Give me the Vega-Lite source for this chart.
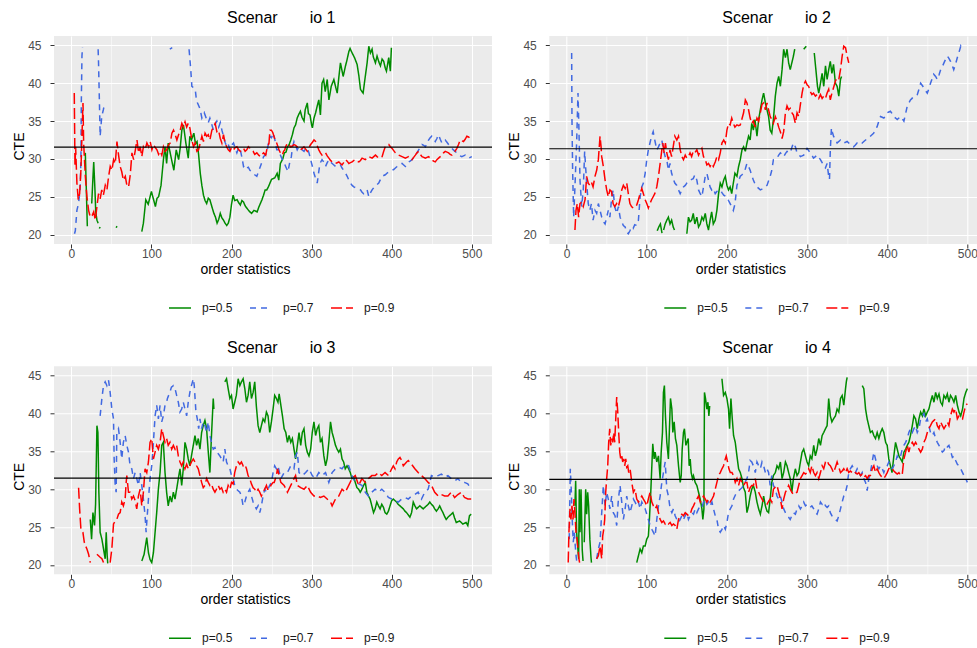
{
"$schema":"https://vega.github.io/schema/vega-lite/v6.json",
"autosize":{"type":"pad"},
"padding":{"left":12,"top":10,"right":0,"bottom":0},
"background":"white",
"datasets":{
"g1":[{"x":17.5,"y":30.8},{"x":20,"y":21.1},{"x":22,"y":null},{"x":25.5,"y":24.1},{"x":27,"y":27.5},{"x":28,"y":29.6},{"x":29.5,"y":26},{"x":30.5,"y":23},{"x":32,"y":21.9},{"x":33.5,"y":21.5},{"x":34.2,"y":null},{"x":35,"y":20.8},{"x":36,"y":21},{"x":40,"y":null},{"x":56,"y":20.9},{"x":57,"y":21.1},{"x":70,"y":null},{"x":88,"y":20.4},{"x":90,"y":21.5},{"x":93,"y":24.6},{"x":96,"y":24},{"x":100,"y":25.7},{"x":103,"y":24.5},{"x":105,"y":23.7},{"x":107,"y":24.8},{"x":109,"y":25},{"x":112,"y":26.5},{"x":115,"y":29.9},{"x":117,"y":31.6},{"x":119,"y":29.4},{"x":121,"y":32.1},{"x":124,"y":30.5},{"x":126,"y":29.5},{"x":128,"y":28.5},{"x":131,"y":31.2},{"x":134,"y":29.9},{"x":136,"y":31.5},{"x":138,"y":33.8},{"x":140,"y":34.5},{"x":143,"y":32.1},{"x":146,"y":30.1},{"x":148,"y":33},{"x":150,"y":32.5},{"x":153,"y":33.4},{"x":155,"y":32},{"x":157,"y":32.3},{"x":159,"y":30.5},{"x":161,"y":28.1},{"x":163,"y":26.5},{"x":165,"y":25.2},{"x":167,"y":24.5},{"x":169,"y":24.1},{"x":171,"y":24.8},{"x":173,"y":24.6},{"x":176,"y":23.5},{"x":178,"y":22.8},{"x":180,"y":22.3},{"x":182,"y":21.5},{"x":184,"y":22},{"x":186,"y":22.8},{"x":188,"y":22.2},{"x":190,"y":21.9},{"x":192,"y":21.5},{"x":194,"y":21.2},{"x":196,"y":21.5},{"x":198,"y":22.3},{"x":200,"y":24},{"x":202,"y":25.2},{"x":204,"y":24.5},{"x":207,"y":24.6},{"x":209,"y":24.2},{"x":211,"y":23.9},{"x":213,"y":24.5},{"x":215,"y":24.3},{"x":217,"y":23.8},{"x":219,"y":23.5},{"x":222,"y":23.1},{"x":225,"y":22.8},{"x":228,"y":23.2},{"x":232,"y":23},{"x":234,"y":23.6},{"x":236,"y":24.1},{"x":238,"y":24.6},{"x":240,"y":25.2},{"x":242,"y":25.9},{"x":244,"y":25.9},{"x":246,"y":26.3},{"x":248,"y":26.8},{"x":250,"y":27.3},{"x":252,"y":27.4},{"x":254,"y":27.5},{"x":257,"y":28.1},{"x":259,"y":27.2},{"x":261,"y":29.4},{"x":264,"y":30},{"x":266,"y":30.8},{"x":268,"y":30.9},{"x":270,"y":31.6},{"x":272,"y":31.9},{"x":274,"y":32.5},{"x":276,"y":33.2},{"x":278,"y":34.1},{"x":280,"y":34.5},{"x":282,"y":35.4},{"x":284,"y":35.9},{"x":286,"y":36.3},{"x":288,"y":35.5},{"x":290.5,"y":35},{"x":292,"y":36.5},{"x":294.6,"y":37.4},{"x":296,"y":36},{"x":298,"y":35.8},{"x":300,"y":34.5},{"x":301,"y":34.1},{"x":303,"y":35.4},{"x":305,"y":36.1},{"x":307,"y":37},{"x":309,"y":37.8},{"x":311,"y":35.8},{"x":313,"y":40},{"x":315,"y":40.5},{"x":317,"y":38.9},{"x":319.5,"y":40.5},{"x":321.6,"y":37.8},{"x":324.5,"y":39.6},{"x":327.8,"y":40.5},{"x":330,"y":39.5},{"x":332,"y":38.7},{"x":334,"y":40.8},{"x":336,"y":42.7},{"x":339.4,"y":40.9},{"x":342.3,"y":42.3},{"x":344,"y":43},{"x":346.5,"y":44.2},{"x":348,"y":44.6},{"x":350.6,"y":44},{"x":353.5,"y":43.4},{"x":356.8,"y":42.5},{"x":359,"y":41},{"x":361,"y":39.2},{"x":364.3,"y":38.7},{"x":367,"y":40.9},{"x":369.3,"y":42.7},{"x":371.4,"y":44.9},{"x":373.4,"y":44},{"x":375.5,"y":44.5},{"x":377,"y":43.5},{"x":379.7,"y":42.7},{"x":381.7,"y":43.6},{"x":384,"y":42.8},{"x":385.9,"y":42.3},{"x":388,"y":43.2},{"x":390,"y":42.9},{"x":392,"y":42},{"x":393.4,"y":41.6},{"x":396.3,"y":43.4},{"x":398.3,"y":41.6},{"x":399.6,"y":44.7}],
"b1":[{"x":4,"y":20.1},{"x":5,"y":20.5},{"x":7,"y":23.2},{"x":9,"y":24.1},{"x":11,"y":25.9},{"x":12,"y":30},{"x":12.5,"y":37.4},{"x":13.3,"y":43.6},{"x":14,"y":44.8},{"x":20,"y":null},{"x":33.5,"y":44.5},{"x":34,"y":42.7},{"x":35,"y":38},{"x":36,"y":33},{"x":38,"y":35.6},{"x":40,"y":36.5},{"x":41,"y":37},{"x":60,"y":null},{"x":123,"y":44.5},{"x":126,"y":44.7},{"x":135,"y":null},{"x":147,"y":44.5},{"x":149,"y":42},{"x":150.5,"y":39.6},{"x":152.6,"y":39.4},{"x":154.7,"y":39.2},{"x":156,"y":38},{"x":157.6,"y":37.4},{"x":160,"y":36.8},{"x":161,"y":36.5},{"x":163,"y":35.4},{"x":166,"y":36.1},{"x":169,"y":35.2},{"x":171,"y":34.8},{"x":173,"y":35.4},{"x":175.5,"y":34.5},{"x":177.5,"y":33.8},{"x":179.6,"y":34.6},{"x":181.7,"y":35},{"x":184,"y":34.2},{"x":186,"y":34.8},{"x":188,"y":33.8},{"x":190,"y":33},{"x":192,"y":32.2},{"x":194,"y":31.6},{"x":196,"y":31.9},{"x":198,"y":31.2},{"x":200,"y":31.8},{"x":202.5,"y":32.1},{"x":204.6,"y":31.4},{"x":206.7,"y":30.8},{"x":209,"y":31.5},{"x":211,"y":31.2},{"x":213,"y":30.2},{"x":215,"y":29},{"x":217,"y":29.2},{"x":219,"y":28.8},{"x":221,"y":28.9},{"x":223,"y":28.5},{"x":225,"y":28.3},{"x":227,"y":28.1},{"x":229,"y":27.9},{"x":231.6,"y":27.7},{"x":234,"y":28.4},{"x":236,"y":29},{"x":238,"y":29.6},{"x":240,"y":30.3},{"x":242,"y":30.5},{"x":244,"y":30.8},{"x":246,"y":32},{"x":248,"y":33},{"x":250,"y":32.8},{"x":252,"y":33.4},{"x":254,"y":32.6},{"x":256.5,"y":31.2},{"x":259.3,"y":31.2},{"x":261,"y":30.5},{"x":263.5,"y":29.9},{"x":265.6,"y":29.5},{"x":267.6,"y":29},{"x":270.5,"y":28.3},{"x":272.6,"y":29.5},{"x":274.7,"y":30.3},{"x":276,"y":31.5},{"x":278,"y":32.3},{"x":280,"y":31.8},{"x":282,"y":31.2},{"x":284,"y":31.6},{"x":286.3,"y":31.6},{"x":288,"y":31.2},{"x":290.5,"y":31},{"x":292.6,"y":31.4},{"x":294.6,"y":31.4},{"x":296.7,"y":30.8},{"x":298.8,"y":29.9},{"x":301,"y":29},{"x":303,"y":28.1},{"x":305,"y":27.4},{"x":307,"y":26.8},{"x":308.5,"y":28},{"x":310.4,"y":29.4},{"x":313,"y":29.9},{"x":315,"y":29.6},{"x":317.4,"y":29},{"x":319.5,"y":29.5},{"x":321.6,"y":29.9},{"x":323.6,"y":29.6},{"x":325.7,"y":29.4},{"x":327.8,"y":29.2},{"x":329.9,"y":29},{"x":332,"y":29.2},{"x":336,"y":29.2},{"x":338,"y":28.8},{"x":340,"y":28.5},{"x":342,"y":28.2},{"x":344.4,"y":27.7},{"x":346.5,"y":27.2},{"x":348.5,"y":26.8},{"x":350.6,"y":26.5},{"x":352.7,"y":26.3},{"x":354.8,"y":26.2},{"x":356.8,"y":26.1},{"x":359,"y":26},{"x":361,"y":25.9},{"x":363,"y":25.6},{"x":365,"y":25.4},{"x":367,"y":25.6},{"x":369.3,"y":25.9},{"x":371.4,"y":25},{"x":373.4,"y":25.5},{"x":375.5,"y":25.9},{"x":377.6,"y":26.2},{"x":379.7,"y":26.5},{"x":381.7,"y":26.6},{"x":383.8,"y":26.8},{"x":386,"y":27.3},{"x":388,"y":27.7},{"x":390,"y":27.8},{"x":392,"y":27.9},{"x":394,"y":28.1},{"x":396.3,"y":28.3},{"x":398.3,"y":28.4},{"x":400.4,"y":28.5},{"x":402.5,"y":28.6},{"x":404.6,"y":28.8},{"x":406.7,"y":29},{"x":408.7,"y":29.2},{"x":410.8,"y":29.3},{"x":412.9,"y":29.4},{"x":415,"y":29.2},{"x":417,"y":29},{"x":419,"y":29.3},{"x":421,"y":29.6},{"x":423,"y":29.7},{"x":425.3,"y":29.9},{"x":427.4,"y":30.2},{"x":429.5,"y":30.5},{"x":431.5,"y":30.8},{"x":433.6,"y":31.2},{"x":435.7,"y":31.5},{"x":437.8,"y":31.9},{"x":440,"y":31.8},{"x":442,"y":31.6},{"x":444,"y":32},{"x":446,"y":32.5},{"x":448,"y":32.8},{"x":450,"y":33},{"x":452.3,"y":32.7},{"x":454.4,"y":32.3},{"x":456.4,"y":32.7},{"x":458.5,"y":33.2},{"x":460.6,"y":32.6},{"x":462.7,"y":32.1},{"x":464.7,"y":32.3},{"x":466.8,"y":32.5},{"x":469,"y":32.2},{"x":471,"y":31.9},{"x":473,"y":31.6},{"x":475,"y":31.4},{"x":477,"y":31.2},{"x":479,"y":31},{"x":481.3,"y":30.8},{"x":483.4,"y":30.5},{"x":485.4,"y":30.4},{"x":487.5,"y":30.3},{"x":489.6,"y":30.4},{"x":491.7,"y":30.5},{"x":493.8,"y":30.3},{"x":495.9,"y":30.1},{"x":498,"y":30.2},{"x":500,"y":30.3}],
"r1":[{"x":3.7,"y":38.7},{"x":4.6,"y":29},{"x":5.4,"y":31.6},{"x":7,"y":26.8},{"x":8.7,"y":24.6},{"x":10.4,"y":25.4},{"x":12,"y":28.5},{"x":13.3,"y":33},{"x":14.6,"y":37.4},{"x":15.4,"y":32.1},{"x":17.5,"y":27.7},{"x":19.5,"y":25},{"x":21.6,"y":23.2},{"x":23.7,"y":22.3},{"x":26,"y":22.5},{"x":28,"y":23},{"x":30,"y":21.9},{"x":32,"y":23.7},{"x":34,"y":25.4},{"x":36,"y":24.7},{"x":38,"y":25.9},{"x":40,"y":25.2},{"x":42.4,"y":26.5},{"x":44.5,"y":25.9},{"x":46.6,"y":27.7},{"x":48.6,"y":29},{"x":50.7,"y":28.5},{"x":52.8,"y":29.9},{"x":54.9,"y":29.4},{"x":57,"y":32.3},{"x":59,"y":30.5},{"x":61,"y":29},{"x":63,"y":28.3},{"x":65,"y":27.2},{"x":67.4,"y":27.7},{"x":69.4,"y":26.5},{"x":71.5,"y":26.3},{"x":73.6,"y":27.9},{"x":75.7,"y":30.8},{"x":77.8,"y":29.9},{"x":80,"y":31.2},{"x":82,"y":32.5},{"x":84,"y":30.8},{"x":86,"y":31.6},{"x":88,"y":30.3},{"x":90,"y":31.6},{"x":92,"y":31.2},{"x":94.4,"y":32.1},{"x":96.5,"y":31.6},{"x":98.5,"y":32.3},{"x":100.6,"y":31.2},{"x":102.7,"y":31.9},{"x":104.8,"y":31.5},{"x":106.9,"y":31.2},{"x":109,"y":30.6},{"x":111,"y":31},{"x":113,"y":30.5},{"x":115,"y":31.6},{"x":117,"y":31},{"x":119,"y":31.2},{"x":121,"y":31.8},{"x":123.5,"y":32.1},{"x":125.6,"y":33.4},{"x":127.6,"y":33.8},{"x":129.7,"y":33.2},{"x":131.8,"y":32.5},{"x":133.9,"y":33.2},{"x":136,"y":33.8},{"x":138,"y":34.7},{"x":140,"y":34.2},{"x":142,"y":34.9},{"x":144,"y":34.2},{"x":146,"y":34.7},{"x":148,"y":34.1},{"x":150.5,"y":32.5},{"x":152.6,"y":31.6},{"x":154.7,"y":32.1},{"x":156.8,"y":31},{"x":158.8,"y":31.2},{"x":161,"y":32.1},{"x":163,"y":33},{"x":165,"y":32.3},{"x":167,"y":33.4},{"x":169,"y":33},{"x":171,"y":33.2},{"x":173,"y":32.5},{"x":175.5,"y":33.8},{"x":177.5,"y":34.2},{"x":179.6,"y":34.7},{"x":181.7,"y":33.6},{"x":183.8,"y":33.8},{"x":186,"y":32.7},{"x":188,"y":32.1},{"x":190,"y":33.2},{"x":192,"y":32.1},{"x":194,"y":31.6},{"x":196,"y":31.2},{"x":198,"y":31},{"x":200,"y":31.5},{"x":202.5,"y":31.2},{"x":204.6,"y":31.5},{"x":206.7,"y":31.6},{"x":209,"y":31.2},{"x":211,"y":31},{"x":213,"y":31.3},{"x":215,"y":31.4},{"x":217,"y":31},{"x":219,"y":31.2},{"x":221,"y":31.6},{"x":223,"y":31.4},{"x":225,"y":31.1},{"x":227,"y":31},{"x":229,"y":30.6},{"x":231.6,"y":30.8},{"x":234,"y":30.5},{"x":236,"y":30.3},{"x":238,"y":30.6},{"x":240,"y":30.8},{"x":242.7,"y":30.5},{"x":244,"y":31.2},{"x":246.8,"y":32.1},{"x":248,"y":33.8},{"x":249.8,"y":33.8},{"x":251.5,"y":33.5},{"x":253,"y":33},{"x":254.5,"y":32.5},{"x":256.4,"y":32.1},{"x":259.3,"y":31.2},{"x":261,"y":30.8},{"x":263.5,"y":30.5},{"x":265,"y":31},{"x":266.4,"y":31.2},{"x":268,"y":31.7},{"x":269.7,"y":32.1},{"x":272,"y":31.8},{"x":273.9,"y":31.6},{"x":276,"y":31.7},{"x":278,"y":31.9},{"x":280,"y":31.8},{"x":282,"y":31.6},{"x":284,"y":31.4},{"x":286.3,"y":31.2},{"x":288.4,"y":31.4},{"x":290.5,"y":31.6},{"x":292.6,"y":31.3},{"x":294.6,"y":31},{"x":296.7,"y":31.5},{"x":298.8,"y":31.9},{"x":301,"y":32.2},{"x":303,"y":32.5},{"x":305,"y":32.3},{"x":306,"y":32.1},{"x":307.5,"y":31.6},{"x":309,"y":31.2},{"x":311,"y":30.8},{"x":313,"y":30.5},{"x":315,"y":30.7},{"x":317.4,"y":30.8},{"x":319.5,"y":30.4},{"x":321.6,"y":30.1},{"x":323.6,"y":29.8},{"x":325.7,"y":29.6},{"x":327.8,"y":29.5},{"x":329.9,"y":29.4},{"x":332,"y":29.5},{"x":334,"y":29.6},{"x":336,"y":29.4},{"x":338,"y":29.2},{"x":340,"y":29.5},{"x":342.3,"y":29.9},{"x":344.4,"y":29.7},{"x":346.5,"y":29.4},{"x":348.5,"y":29.5},{"x":350.6,"y":29.6},{"x":352.7,"y":29.8},{"x":354.8,"y":29.9},{"x":356.8,"y":29.7},{"x":359,"y":29.6},{"x":361,"y":29.8},{"x":363,"y":30.1},{"x":365,"y":30},{"x":367,"y":29.9},{"x":369.3,"y":30.1},{"x":371.4,"y":30.3},{"x":373.4,"y":30.2},{"x":375.5,"y":30.1},{"x":377.6,"y":30.3},{"x":379.7,"y":30.5},{"x":381.7,"y":30.3},{"x":383.8,"y":30.1},{"x":386,"y":30.2},{"x":388,"y":30.3},{"x":390,"y":31},{"x":392,"y":31.6},{"x":394,"y":31.8},{"x":396.3,"y":31.9},{"x":398.3,"y":31.6},{"x":400.4,"y":31.4},{"x":402.5,"y":31.1},{"x":404.6,"y":30.8},{"x":406.7,"y":30.6},{"x":408.7,"y":30.5},{"x":410.8,"y":30.4},{"x":412.9,"y":30.3},{"x":415,"y":30.2},{"x":417,"y":30.1},{"x":419,"y":30.2},{"x":421,"y":30.3},{"x":423,"y":30.1},{"x":425.3,"y":29.9},{"x":427.4,"y":30.2},{"x":429.5,"y":30.5},{"x":431.5,"y":30.8},{"x":433.6,"y":31},{"x":435.7,"y":30.6},{"x":437.8,"y":30.3},{"x":440,"y":30.2},{"x":442,"y":30.1},{"x":444,"y":30.2},{"x":446,"y":30.3},{"x":448,"y":30.1},{"x":450,"y":29.9},{"x":452.3,"y":29.7},{"x":454.4,"y":29.6},{"x":456.4,"y":29.9},{"x":458.5,"y":30.1},{"x":460.6,"y":30.3},{"x":462.7,"y":30.5},{"x":464.7,"y":30.8},{"x":466.8,"y":31},{"x":469,"y":30.9},{"x":471,"y":30.8},{"x":473,"y":30.6},{"x":475,"y":30.5},{"x":477,"y":30.8},{"x":479,"y":31},{"x":481.3,"y":31.4},{"x":483.4,"y":31.9},{"x":485.5,"y":32.5},{"x":487.5,"y":32.4},{"x":489.6,"y":32.3},{"x":491.7,"y":32.6},{"x":493.8,"y":33},{"x":495.9,"y":32.9},{"x":498,"y":32.7},{"x":500,"y":33}],
"g2":[{"x":113,"y":20.5},{"x":115,"y":21},{"x":117,"y":21.4},{"x":119,"y":20.2},{"x":120,"y":null},{"x":121,"y":20.6},{"x":123,"y":21.4},{"x":125,"y":21.9},{"x":127,"y":22.3},{"x":129,"y":21.4},{"x":131,"y":21.9},{"x":133,"y":21},{"x":134.6,"y":20.6},{"x":140,"y":null},{"x":150,"y":20.1},{"x":152,"y":22.3},{"x":154,"y":21.7},{"x":156,"y":21.9},{"x":158,"y":22.8},{"x":160,"y":21.4},{"x":162.5,"y":22.3},{"x":164.6,"y":21},{"x":166.7,"y":21.4},{"x":168.8,"y":22.3},{"x":170.8,"y":21.9},{"x":173,"y":22.8},{"x":175,"y":21.4},{"x":177,"y":20.6},{"x":179,"y":21.9},{"x":181,"y":23},{"x":183,"y":21.4},{"x":185.4,"y":21.9},{"x":187.5,"y":23.2},{"x":189.6,"y":25.4},{"x":191.7,"y":26.8},{"x":193.8,"y":26.3},{"x":196,"y":27.2},{"x":198,"y":27.7},{"x":200,"y":26.5},{"x":202,"y":25.9},{"x":204,"y":26.3},{"x":206,"y":25.4},{"x":208,"y":26.8},{"x":210,"y":28.1},{"x":212.5,"y":27.7},{"x":214.6,"y":29},{"x":216.7,"y":29.9},{"x":218.8,"y":31.2},{"x":220.8,"y":31.6},{"x":223,"y":31},{"x":225,"y":32.1},{"x":227,"y":33},{"x":229,"y":32.5},{"x":231,"y":34.7},{"x":233,"y":33.8},{"x":235,"y":35.2},{"x":237.5,"y":33},{"x":239.6,"y":35.2},{"x":241.7,"y":36.5},{"x":243.8,"y":37.8},{"x":245.8,"y":38.7},{"x":248,"y":37.4},{"x":250,"y":36.5},{"x":252,"y":35.6},{"x":254,"y":33.8},{"x":256,"y":33.4},{"x":258,"y":35.2},{"x":260.4,"y":38.3},{"x":262.5,"y":40},{"x":264.6,"y":40.9},{"x":266.7,"y":39.6},{"x":268.8,"y":41.8},{"x":270.8,"y":44.5},{"x":273,"y":43.4},{"x":275,"y":44.5},{"x":277,"y":42.7},{"x":279,"y":41.8},{"x":281,"y":42.7},{"x":283,"y":43.6},{"x":284.6,"y":44.5},{"x":290,"y":null},{"x":295.8,"y":44.5},{"x":299,"y":44.9},{"x":304,"y":null},{"x":309,"y":44},{"x":311,"y":41.8},{"x":313,"y":39.6},{"x":314.6,"y":38.7},{"x":316.7,"y":40},{"x":318.8,"y":41.3},{"x":320.8,"y":39.6},{"x":323,"y":42.3},{"x":325,"y":40.5},{"x":327,"y":41.8},{"x":329,"y":42.9},{"x":331,"y":41.3},{"x":333,"y":42.5},{"x":335.4,"y":40},{"x":337.5,"y":39.6},{"x":339.6,"y":38.3},{"x":341.7,"y":40.5},{"x":343,"y":40.9}],
"b2":[{"x":6.3,"y":44},{"x":6.7,"y":35.2},{"x":7.5,"y":28.5},{"x":8.8,"y":22.3},{"x":10.4,"y":26.3},{"x":12.5,"y":32.1},{"x":14.2,"y":38.7},{"x":15.4,"y":33.8},{"x":16.7,"y":27.2},{"x":18.8,"y":23.7},{"x":20.8,"y":25.9},{"x":22.5,"y":31},{"x":25,"y":26.8},{"x":27,"y":24.1},{"x":29,"y":23.2},{"x":31,"y":24.1},{"x":33,"y":21.9},{"x":35.4,"y":23.2},{"x":37.5,"y":22.8},{"x":39.6,"y":24.1},{"x":41.7,"y":23.2},{"x":43.8,"y":22.3},{"x":45.8,"y":21.7},{"x":48,"y":21.4},{"x":50,"y":22.3},{"x":52,"y":23.2},{"x":54,"y":22.3},{"x":56,"y":24.6},{"x":58,"y":25.9},{"x":60,"y":23.7},{"x":62.5,"y":22.8},{"x":64.6,"y":23.7},{"x":66.7,"y":22.3},{"x":68.8,"y":21.7},{"x":70.8,"y":21.2},{"x":73,"y":21},{"x":75,"y":20.3},{"x":77,"y":20.1},{"x":79,"y":20.5},{"x":81,"y":21},{"x":83,"y":20.8},{"x":85,"y":21.3},{"x":87.5,"y":21.2},{"x":89.6,"y":21.9},{"x":91.7,"y":25},{"x":93.8,"y":26.3},{"x":95.8,"y":26.8},{"x":98,"y":28.1},{"x":100,"y":29.9},{"x":102,"y":31.2},{"x":104,"y":32.1},{"x":106,"y":33},{"x":108,"y":33.6},{"x":110,"y":32.5},{"x":112.5,"y":31.2},{"x":114.6,"y":31.6},{"x":116.7,"y":32.1},{"x":118.8,"y":32.5},{"x":120.8,"y":31.2},{"x":123,"y":30.3},{"x":125,"y":29.9},{"x":127,"y":28.5},{"x":129,"y":29.4},{"x":131,"y":28.1},{"x":133,"y":27.4},{"x":135,"y":26.8},{"x":137.5,"y":26.5},{"x":139.6,"y":25.9},{"x":141.7,"y":25.4},{"x":143.8,"y":25.9},{"x":145.8,"y":26.3},{"x":148,"y":26.5},{"x":150,"y":26.8},{"x":152,"y":26.9},{"x":154,"y":27.2},{"x":156,"y":27.3},{"x":158,"y":27.4},{"x":160,"y":27.9},{"x":162.5,"y":27.2},{"x":164.6,"y":25.9},{"x":166.7,"y":25.4},{"x":168.8,"y":25},{"x":170.8,"y":26.3},{"x":173,"y":27.7},{"x":175,"y":28.1},{"x":177,"y":27.2},{"x":179,"y":26.3},{"x":181,"y":25.9},{"x":183,"y":26.1},{"x":185.4,"y":25.4},{"x":187.5,"y":25.7},{"x":189.6,"y":25.8},{"x":191.7,"y":25.9},{"x":194,"y":25.5},{"x":196,"y":25.2},{"x":198,"y":25.1},{"x":200,"y":25},{"x":202,"y":24.5},{"x":204,"y":24.1},{"x":206,"y":23.7},{"x":208,"y":23.2},{"x":210,"y":24},{"x":212.5,"y":26.5},{"x":214.6,"y":27.1},{"x":216.7,"y":27.7},{"x":218.8,"y":27.9},{"x":220.8,"y":28.1},{"x":223,"y":28.7},{"x":225,"y":29.4},{"x":227,"y":29},{"x":229,"y":28.5},{"x":231,"y":27.8},{"x":233,"y":27.2},{"x":235,"y":26.7},{"x":237.5,"y":26.3},{"x":239.6,"y":26.1},{"x":241.7,"y":25.9},{"x":243.8,"y":26},{"x":245.8,"y":26.1},{"x":248,"y":26.3},{"x":250,"y":26.5},{"x":252,"y":27.1},{"x":254,"y":27.7},{"x":256,"y":28.5},{"x":258,"y":29.9},{"x":260.4,"y":30},{"x":262.5,"y":30.1},{"x":264.6,"y":30.5},{"x":266.7,"y":30.8},{"x":268.8,"y":30.6},{"x":270.8,"y":30.3},{"x":273,"y":30.7},{"x":275,"y":31},{"x":277,"y":30.9},{"x":279,"y":30.8},{"x":281,"y":31.5},{"x":283,"y":32.1},{"x":285.4,"y":31.6},{"x":287.5,"y":30.8},{"x":289.6,"y":30.6},{"x":291.7,"y":30.3},{"x":293.8,"y":30.4},{"x":295.8,"y":30.5},{"x":298,"y":31},{"x":300,"y":31.4},{"x":302,"y":31.1},{"x":304,"y":30.8},{"x":306,"y":30.5},{"x":308,"y":30.1},{"x":310.4,"y":30.3},{"x":312.5,"y":30.5},{"x":314.6,"y":30.2},{"x":316.7,"y":29.9},{"x":318.8,"y":29.5},{"x":320.8,"y":29},{"x":322.9,"y":28.8},{"x":325,"y":29.4},{"x":327,"y":27.7},{"x":328,"y":27.3},{"x":329,"y":31.2},{"x":330.4,"y":34.1},{"x":331.7,"y":33.5},{"x":333,"y":33},{"x":335.4,"y":32.6},{"x":337.5,"y":32.1},{"x":339.6,"y":32.3},{"x":341.7,"y":32.5},{"x":343.8,"y":32.3},{"x":345.8,"y":32.1},{"x":348,"y":32.2},{"x":350,"y":32.3},{"x":352,"y":32.1},{"x":354,"y":31.9},{"x":356,"y":31.7},{"x":358,"y":31.6},{"x":360,"y":31.8},{"x":362.5,"y":32.1},{"x":364.6,"y":32},{"x":366.7,"y":31.9},{"x":368.8,"y":32.1},{"x":370.8,"y":32.3},{"x":373,"y":32.5},{"x":375,"y":32.7},{"x":377,"y":32.8},{"x":379,"y":33},{"x":381,"y":33.2},{"x":383,"y":33.4},{"x":385.4,"y":33.8},{"x":387.5,"y":34.3},{"x":389.6,"y":35},{"x":391.7,"y":35.6},{"x":393.8,"y":35.5},{"x":395.8,"y":35.4},{"x":398,"y":35.7},{"x":400,"y":36.1},{"x":402,"y":36.2},{"x":404,"y":36.3},{"x":406,"y":36},{"x":408,"y":35.6},{"x":410.4,"y":35.4},{"x":412.5,"y":35.2},{"x":414.6,"y":35.4},{"x":416.7,"y":35.6},{"x":418.8,"y":35.3},{"x":420.8,"y":35},{"x":423,"y":36},{"x":425,"y":37},{"x":427,"y":37.4},{"x":429,"y":37.8},{"x":431,"y":38},{"x":433,"y":38.3},{"x":435.4,"y":38.4},{"x":437.5,"y":38.5},{"x":439.6,"y":39.2},{"x":441.7,"y":40},{"x":443.8,"y":39.7},{"x":445.8,"y":39.4},{"x":448,"y":39},{"x":450,"y":38.7},{"x":452,"y":39.3},{"x":454,"y":40},{"x":456,"y":40.6},{"x":458,"y":41.2},{"x":460.4,"y":40.9},{"x":462.5,"y":40.5},{"x":464.6,"y":41.1},{"x":466.7,"y":41.8},{"x":468.8,"y":42.2},{"x":470.8,"y":42.7},{"x":473,"y":43.2},{"x":475,"y":43.6},{"x":477,"y":43.3},{"x":479,"y":42.9},{"x":481,"y":42.4},{"x":483,"y":41.8},{"x":485.4,"y":42.6},{"x":487.5,"y":43.4},{"x":489.6,"y":44.1},{"x":491.7,"y":44.9},{"x":493,"y":44.5}],
"r2":[{"x":10.4,"y":20.6},{"x":11.7,"y":23.2},{"x":13.3,"y":24.1},{"x":15,"y":22.3},{"x":16.7,"y":24.1},{"x":18.8,"y":24.3},{"x":20.8,"y":23.7},{"x":23,"y":24.6},{"x":25,"y":27.7},{"x":27,"y":26.8},{"x":29,"y":26.5},{"x":31,"y":26.9},{"x":33,"y":26.3},{"x":35.4,"y":27.7},{"x":37.5,"y":28.5},{"x":39.6,"y":29.9},{"x":41.7,"y":33},{"x":43,"y":31.6},{"x":43.8,"y":30.3},{"x":45.8,"y":29},{"x":48,"y":27.2},{"x":50,"y":25.9},{"x":52,"y":25},{"x":54,"y":25.9},{"x":56,"y":25.7},{"x":58,"y":24.1},{"x":60,"y":23.7},{"x":62.5,"y":24.1},{"x":64.6,"y":23.7},{"x":66.7,"y":24.6},{"x":68.8,"y":25.9},{"x":70.8,"y":26.5},{"x":73,"y":26.1},{"x":75,"y":26.8},{"x":77,"y":25.4},{"x":79,"y":24.1},{"x":81,"y":23.7},{"x":83,"y":23.5},{"x":85,"y":23.7},{"x":87.5,"y":23.9},{"x":89.6,"y":24.6},{"x":91.7,"y":25.4},{"x":93.8,"y":26.1},{"x":95.8,"y":25.4},{"x":98,"y":24.6},{"x":100,"y":24.1},{"x":102,"y":23.5},{"x":104,"y":24.1},{"x":106,"y":24.6},{"x":108,"y":25},{"x":110,"y":25.4},{"x":112.5,"y":26.3},{"x":114.6,"y":27.7},{"x":116.7,"y":29.4},{"x":118.8,"y":31.2},{"x":120,"y":32.1},{"x":121.7,"y":30.8},{"x":123.3,"y":32.1},{"x":125,"y":30.8},{"x":127,"y":29.9},{"x":129,"y":31.2},{"x":131,"y":30.3},{"x":133,"y":31.6},{"x":135,"y":33},{"x":137.5,"y":32.5},{"x":139.6,"y":33},{"x":141.7,"y":31.2},{"x":143.8,"y":30.3},{"x":145.8,"y":29.9},{"x":148,"y":30.5},{"x":150,"y":30.1},{"x":152,"y":30.3},{"x":154,"y":30.8},{"x":156,"y":30.3},{"x":158,"y":31},{"x":160,"y":30.8},{"x":162.5,"y":31.2},{"x":164.6,"y":30.5},{"x":166.7,"y":31},{"x":168.8,"y":31.4},{"x":170.8,"y":30.3},{"x":173,"y":29.9},{"x":175,"y":29.2},{"x":177,"y":29.4},{"x":179,"y":29},{"x":181,"y":29.4},{"x":183,"y":29},{"x":185.4,"y":29.6},{"x":187.5,"y":30.3},{"x":189.6,"y":29.9},{"x":191.7,"y":30.8},{"x":193.8,"y":32.1},{"x":196,"y":32.5},{"x":198,"y":32.1},{"x":200,"y":33.8},{"x":202,"y":34.7},{"x":204,"y":34.5},{"x":206,"y":35.4},{"x":208,"y":34.7},{"x":210,"y":34.2},{"x":212.5,"y":34.5},{"x":214.6,"y":34.4},{"x":216.7,"y":34.5},{"x":218.8,"y":35.3},{"x":220.8,"y":36.1},{"x":223,"y":37.8},{"x":225,"y":37.4},{"x":227,"y":36.5},{"x":229,"y":35.4},{"x":231,"y":34.7},{"x":233,"y":35},{"x":235,"y":34.2},{"x":237.5,"y":35.4},{"x":239.6,"y":35},{"x":241.7,"y":36.1},{"x":243.8,"y":37.2},{"x":245.8,"y":37.4},{"x":248,"y":36.5},{"x":250,"y":37.4},{"x":252,"y":36.5},{"x":254,"y":35.6},{"x":256,"y":35.2},{"x":258,"y":34.7},{"x":260.4,"y":35.6},{"x":262.5,"y":35},{"x":264.6,"y":34.2},{"x":266.7,"y":33.6},{"x":268.8,"y":32.7},{"x":270.8,"y":33.6},{"x":273,"y":36.1},{"x":275,"y":37},{"x":277,"y":36.5},{"x":279,"y":36.7},{"x":281,"y":36.1},{"x":283,"y":35.8},{"x":285.4,"y":34.7},{"x":287.5,"y":36.1},{"x":289.6,"y":35.6},{"x":291.7,"y":37.2},{"x":293.8,"y":38.7},{"x":295.8,"y":39.8},{"x":298,"y":40.3},{"x":300,"y":39.8},{"x":302,"y":39.6},{"x":304,"y":38.9},{"x":306,"y":38.5},{"x":308,"y":38.7},{"x":310.4,"y":38.3},{"x":312.5,"y":38.5},{"x":314.6,"y":38},{"x":316.7,"y":38.5},{"x":318.8,"y":38},{"x":320.8,"y":38.3},{"x":323,"y":38},{"x":325,"y":38.7},{"x":327,"y":39.2},{"x":329,"y":37.8},{"x":331,"y":38.7},{"x":333,"y":39.4},{"x":335.4,"y":40.3},{"x":337.5,"y":40.7},{"x":339.6,"y":40.5},{"x":341.7,"y":41.8},{"x":343.8,"y":43.6},{"x":345.8,"y":44.9},{"x":348,"y":44.7},{"x":350,"y":43.6},{"x":352,"y":42.7}],
"g3":[{"x":23.7,"y":26},{"x":25.3,"y":23.4},{"x":27,"y":26.9},{"x":29,"y":25.2},{"x":30.3,"y":28},{"x":32,"y":38.4},{"x":33.2,"y":37.5},{"x":34.4,"y":29.6},{"x":36,"y":24.3},{"x":38.2,"y":23.4},{"x":40.2,"y":22.1},{"x":42.3,"y":20.8},{"x":43.6,"y":24.3},{"x":44.8,"y":21.2},{"x":45.5,"y":20.2},{"x":60,"y":null},{"x":88,"y":20.5},{"x":90.9,"y":21.4},{"x":94.2,"y":23.6},{"x":96.3,"y":21.6},{"x":98.3,"y":20.7},{"x":100.4,"y":20.3},{"x":102.5,"y":21.6},{"x":104.6,"y":24.3},{"x":106.6,"y":26.9},{"x":108.7,"y":30},{"x":110.8,"y":32.2},{"x":112.9,"y":35.8},{"x":114.9,"y":36.2},{"x":117,"y":32.2},{"x":119,"y":29.6},{"x":121,"y":27.8},{"x":123.2,"y":29.1},{"x":125.3,"y":28.3},{"x":127.4,"y":29.6},{"x":129.5,"y":28.7},{"x":131.5,"y":30},{"x":133.6,"y":31.4},{"x":135.7,"y":32.7},{"x":137.8,"y":30.5},{"x":139.8,"y":32.7},{"x":141.9,"y":36.2},{"x":144,"y":35.3},{"x":146,"y":34},{"x":148,"y":33.1},{"x":150,"y":34.4},{"x":152.3,"y":35.8},{"x":154.4,"y":37.1},{"x":156.4,"y":35.8},{"x":158.5,"y":36.7},{"x":160.6,"y":35.3},{"x":162.7,"y":37.5},{"x":164.7,"y":38.4},{"x":166.8,"y":39.1},{"x":168.9,"y":38},{"x":171,"y":34.9},{"x":173,"y":32.2},{"x":175,"y":37.1},{"x":177.2,"y":42},{"x":178,"y":40.6},{"x":185,"y":null},{"x":191.7,"y":44.2},{"x":193.8,"y":44.6},{"x":195.8,"y":43.3},{"x":198,"y":42},{"x":200,"y":42.4},{"x":202,"y":40.6},{"x":204,"y":41.5},{"x":206,"y":42.4},{"x":208.3,"y":44.6},{"x":210.4,"y":43.7},{"x":212.4,"y":44.2},{"x":214.5,"y":44.6},{"x":216.6,"y":43.3},{"x":218.7,"y":41.5},{"x":220.7,"y":42.4},{"x":222.8,"y":44.2},{"x":224.9,"y":42},{"x":227,"y":42.8},{"x":229,"y":44.2},{"x":231,"y":41},{"x":233.2,"y":38.4},{"x":235.3,"y":37.5},{"x":237.3,"y":38.4},{"x":239.4,"y":39.3},{"x":241.5,"y":38.9},{"x":243.6,"y":40.2},{"x":245.6,"y":39.7},{"x":247.7,"y":37.5},{"x":249.8,"y":38.9},{"x":251.9,"y":40.6},{"x":253.9,"y":42.4},{"x":256,"y":42},{"x":258,"y":41.5},{"x":259.5,"y":42.6},{"x":261.6,"y":41.1},{"x":263.6,"y":39.7},{"x":265.7,"y":38},{"x":267.8,"y":37.5},{"x":269.8,"y":36.2},{"x":271.9,"y":37.1},{"x":274,"y":36.2},{"x":276,"y":36.7},{"x":278,"y":35.3},{"x":280,"y":34},{"x":282.2,"y":35.8},{"x":284.3,"y":37.5},{"x":286.4,"y":35.8},{"x":288.4,"y":37.5},{"x":290.5,"y":38},{"x":292.6,"y":35.8},{"x":294.6,"y":34.9},{"x":296.7,"y":34.4},{"x":298.8,"y":35.3},{"x":300.8,"y":37.5},{"x":302.9,"y":38.9},{"x":305,"y":37.1},{"x":307,"y":38},{"x":309,"y":38.4},{"x":311,"y":36.2},{"x":313,"y":36.7},{"x":315.3,"y":34.4},{"x":317.4,"y":33.1},{"x":319.4,"y":34},{"x":321.5,"y":36.2},{"x":323.6,"y":38.9},{"x":325.6,"y":37.5},{"x":327.7,"y":36.7},{"x":329.8,"y":35.8},{"x":331.8,"y":35.3},{"x":333.9,"y":34.9},{"x":336,"y":35.3},{"x":338,"y":34},{"x":340,"y":33.6},{"x":342,"y":32.7},{"x":344.2,"y":33.1},{"x":346.3,"y":32.7},{"x":348.3,"y":32.2},{"x":350.4,"y":31.4},{"x":352.5,"y":31.6},{"x":354.5,"y":30.9},{"x":356.6,"y":30.2},{"x":358.7,"y":30},{"x":360.7,"y":29.6},{"x":362.8,"y":30},{"x":364.9,"y":30.5},{"x":367,"y":30.9},{"x":369,"y":29.6},{"x":371,"y":29.1},{"x":373,"y":28.7},{"x":375.2,"y":27.8},{"x":377.3,"y":26.9},{"x":379.3,"y":27.4},{"x":381.4,"y":28.3},{"x":383.5,"y":27.8},{"x":385.5,"y":27.4},{"x":387.6,"y":28},{"x":389.7,"y":27.6},{"x":391.7,"y":26.9},{"x":393.8,"y":26.7},{"x":395.9,"y":27.1},{"x":397.9,"y":27.8},{"x":400,"y":28.5},{"x":402,"y":28.7},{"x":404,"y":28.5},{"x":406.2,"y":28.3},{"x":408,"y":28},{"x":410.3,"y":27.8},{"x":412.4,"y":27.6},{"x":414.5,"y":27.4},{"x":416.5,"y":27.1},{"x":418.6,"y":26.9},{"x":420.7,"y":26.6},{"x":422.7,"y":26.3},{"x":424.8,"y":26.9},{"x":426.9,"y":28.3},{"x":429,"y":27.8},{"x":431,"y":27.4},{"x":433,"y":27.6},{"x":435.1,"y":27.8},{"x":437.2,"y":27.6},{"x":439.3,"y":27.4},{"x":441.3,"y":27.6},{"x":443.4,"y":27.8},{"x":445.5,"y":28},{"x":447.5,"y":28.3},{"x":449.6,"y":28},{"x":451.7,"y":27.8},{"x":453.7,"y":27.4},{"x":455.8,"y":27.1},{"x":457.9,"y":27.4},{"x":459.9,"y":27.8},{"x":462,"y":27.3},{"x":464,"y":26.9},{"x":466,"y":26.4},{"x":468,"y":26},{"x":470.2,"y":26.3},{"x":472.3,"y":26.5},{"x":474.4,"y":26.7},{"x":476.4,"y":26.9},{"x":478.5,"y":26.2},{"x":480.6,"y":25.6},{"x":482.6,"y":25.7},{"x":484.7,"y":25.8},{"x":486.8,"y":25.6},{"x":488.8,"y":25.4},{"x":490.9,"y":25.5},{"x":492.9,"y":25.6},{"x":495,"y":25.2},{"x":497.1,"y":26.5},{"x":499.2,"y":26.7}],
"b3":[{"x":36,"y":39.7},{"x":38.2,"y":42},{"x":40.2,"y":43.7},{"x":42.3,"y":44.2},{"x":44.4,"y":43.7},{"x":46.5,"y":44.4},{"x":48.5,"y":42.8},{"x":50.6,"y":40.6},{"x":52.7,"y":39.3},{"x":53.5,"y":34},{"x":54.8,"y":30.5},{"x":56,"y":29.6},{"x":56.8,"y":37.5},{"x":58.9,"y":38},{"x":61,"y":36.2},{"x":63,"y":34},{"x":65,"y":36.2},{"x":67.2,"y":37.1},{"x":69.3,"y":35.8},{"x":71.4,"y":34.9},{"x":73.4,"y":33.1},{"x":75.5,"y":32.7},{"x":77.6,"y":31.4},{"x":79.7,"y":32.2},{"x":81.7,"y":31.4},{"x":83.8,"y":30.5},{"x":85.9,"y":32.2},{"x":88,"y":30.5},{"x":90,"y":28.7},{"x":92.1,"y":26.5},{"x":93.4,"y":24.3},{"x":94.2,"y":25.6},{"x":96.3,"y":28.7},{"x":98.3,"y":31.4},{"x":100.4,"y":33.1},{"x":102.5,"y":36.2},{"x":104.6,"y":39.7},{"x":106.6,"y":41.1},{"x":108.7,"y":39.3},{"x":110.8,"y":41.1},{"x":112.9,"y":38.9},{"x":114.9,"y":39.7},{"x":117,"y":41.1},{"x":119,"y":41.5},{"x":120,"y":42},{"x":123,"y":42.8},{"x":125,"y":43.5},{"x":127.4,"y":43.7},{"x":129.5,"y":43.3},{"x":131.5,"y":42.4},{"x":133.6,"y":41.5},{"x":135.7,"y":40.2},{"x":137.8,"y":40.6},{"x":139.8,"y":41.5},{"x":141.9,"y":40.6},{"x":144,"y":39.7},{"x":146,"y":41.5},{"x":148,"y":42.8},{"x":150,"y":43.7},{"x":152.3,"y":44.6},{"x":153.5,"y":43.7},{"x":155.6,"y":40.2},{"x":157.3,"y":39.3},{"x":159,"y":38},{"x":160.6,"y":39.3},{"x":162.7,"y":38},{"x":164.7,"y":38.9},{"x":166.8,"y":38.4},{"x":168.9,"y":37.5},{"x":171,"y":38.9},{"x":173,"y":37.1},{"x":175,"y":36.2},{"x":177.2,"y":35.3},{"x":179.3,"y":35.5},{"x":181.3,"y":34.9},{"x":183.4,"y":34.7},{"x":185.5,"y":34.4},{"x":187.6,"y":34},{"x":189.6,"y":33.6},{"x":191.7,"y":35.3},{"x":193.8,"y":33.6},{"x":195.8,"y":33.1},{"x":198,"y":32.7},{"x":200,"y":31.8},{"x":202,"y":31.4},{"x":204,"y":30.5},{"x":206.2,"y":30},{"x":208.3,"y":29.8},{"x":210.4,"y":29.6},{"x":212.4,"y":29.1},{"x":214.5,"y":27.8},{"x":216.6,"y":28.3},{"x":218.7,"y":29.1},{"x":220.7,"y":29.6},{"x":222.8,"y":30},{"x":224.9,"y":29.1},{"x":227,"y":28.3},{"x":229,"y":27.8},{"x":231,"y":27.4},{"x":233.2,"y":27.8},{"x":235.3,"y":26.9},{"x":237.3,"y":27.8},{"x":239.4,"y":29.1},{"x":241.5,"y":30},{"x":243.6,"y":29.6},{"x":245.6,"y":30},{"x":247.7,"y":30.5},{"x":249.8,"y":30.9},{"x":251.9,"y":32.2},{"x":253.9,"y":33.1},{"x":256,"y":32.7},{"x":258,"y":33.1},{"x":261.6,"y":31.4},{"x":265.7,"y":32.2},{"x":269.8,"y":32.2},{"x":274,"y":33.1},{"x":278,"y":32.7},{"x":280,"y":34.4},{"x":282.2,"y":34.9},{"x":284.3,"y":32.2},{"x":288.4,"y":31.8},{"x":292.6,"y":32.2},{"x":296.7,"y":32.7},{"x":300.8,"y":31.8},{"x":305,"y":31.4},{"x":309,"y":32.2},{"x":313,"y":31.8},{"x":317.4,"y":32.2},{"x":321.5,"y":30.9},{"x":325.6,"y":32.2},{"x":329.8,"y":32.7},{"x":333.9,"y":32.9},{"x":338,"y":32.7},{"x":342,"y":33.3},{"x":346.3,"y":33.1},{"x":350.4,"y":31.8},{"x":354.5,"y":30.9},{"x":358.7,"y":30.7},{"x":362.8,"y":30.5},{"x":367,"y":29.6},{"x":371,"y":29.1},{"x":375.2,"y":29.6},{"x":379.3,"y":30},{"x":383.5,"y":29.6},{"x":387.6,"y":30},{"x":391.7,"y":29.6},{"x":395.9,"y":28.9},{"x":400,"y":28.7},{"x":404.1,"y":28.5},{"x":408.3,"y":28.3},{"x":412.4,"y":28.7},{"x":416.5,"y":28.9},{"x":420.7,"y":28.7},{"x":424.8,"y":29.1},{"x":428.9,"y":29.3},{"x":433,"y":29.6},{"x":437.2,"y":28.7},{"x":441.3,"y":29.6},{"x":445.5,"y":30},{"x":447.5,"y":30.9},{"x":449.6,"y":31.8},{"x":453.7,"y":31.6},{"x":457.9,"y":31.8},{"x":462,"y":32},{"x":466.1,"y":31.6},{"x":470.2,"y":31.8},{"x":474.4,"y":31.4},{"x":478.5,"y":31.1},{"x":482.6,"y":31.4},{"x":486.8,"y":30.9},{"x":490.9,"y":30.9},{"x":495,"y":30.7},{"x":499.2,"y":30}],
"r3":[{"x":9.1,"y":30.2},{"x":10.4,"y":27.4},{"x":12,"y":24.7},{"x":14.5,"y":24.3},{"x":16.2,"y":23},{"x":17.8,"y":22.5},{"x":19.5,"y":22.1},{"x":21.6,"y":21.4},{"x":23.7,"y":20.3},{"x":28,"y":null},{"x":32,"y":21.4},{"x":34,"y":21.2},{"x":36,"y":21},{"x":38.2,"y":20.8},{"x":40.2,"y":20.3},{"x":44,"y":null},{"x":48.5,"y":20.3},{"x":50.6,"y":22.1},{"x":52.7,"y":25.4},{"x":54.8,"y":25.8},{"x":56.8,"y":26},{"x":58.9,"y":26.7},{"x":61,"y":26.9},{"x":63,"y":28.3},{"x":65,"y":27.8},{"x":67.2,"y":28.7},{"x":68.5,"y":30.9},{"x":69.3,"y":31.8},{"x":71.4,"y":29.6},{"x":73.4,"y":29.6},{"x":75.5,"y":28.7},{"x":77.6,"y":29.1},{"x":79.7,"y":28.5},{"x":81.7,"y":27.4},{"x":83.8,"y":29.1},{"x":85.9,"y":30},{"x":88,"y":27.8},{"x":90,"y":29.6},{"x":92.1,"y":32.7},{"x":94.2,"y":32.2},{"x":96.3,"y":33.6},{"x":98.3,"y":36.2},{"x":100.4,"y":36.7},{"x":102.5,"y":34},{"x":104.6,"y":34.9},{"x":106.6,"y":35.8},{"x":108.7,"y":35.3},{"x":110.8,"y":36.2},{"x":112.9,"y":38},{"x":114.9,"y":37.1},{"x":117,"y":36.2},{"x":119,"y":36.7},{"x":121,"y":35.8},{"x":123.2,"y":36.2},{"x":125.3,"y":35.3},{"x":127.4,"y":35.8},{"x":129.5,"y":35.3},{"x":131.5,"y":35.8},{"x":133.6,"y":34.4},{"x":135.7,"y":33.6},{"x":137.8,"y":33.1},{"x":139.8,"y":33.6},{"x":141.9,"y":32.7},{"x":144,"y":33.3},{"x":146,"y":32.7},{"x":148,"y":33.1},{"x":150,"y":33.6},{"x":152.3,"y":34},{"x":154.4,"y":33.6},{"x":156.4,"y":33.1},{"x":158.5,"y":32.7},{"x":160.6,"y":31.8},{"x":162.7,"y":30.9},{"x":164.7,"y":30.2},{"x":166.8,"y":30.5},{"x":168.9,"y":31.4},{"x":171,"y":30.9},{"x":173,"y":30.5},{"x":175,"y":30.7},{"x":177.2,"y":30},{"x":179.3,"y":29.6},{"x":181.3,"y":30},{"x":183.4,"y":30.5},{"x":185.5,"y":30},{"x":187.6,"y":30.2},{"x":189.6,"y":29.6},{"x":191.7,"y":30},{"x":193.8,"y":29.6},{"x":195.8,"y":30.5},{"x":198,"y":30},{"x":200,"y":30.9},{"x":202,"y":30.7},{"x":204,"y":32.2},{"x":206.2,"y":33.1},{"x":208.3,"y":33.6},{"x":210.4,"y":33.3},{"x":212.4,"y":33.6},{"x":214.5,"y":33.1},{"x":216.6,"y":33.3},{"x":218.7,"y":32.7},{"x":220.7,"y":31.8},{"x":222.8,"y":31.4},{"x":224.9,"y":30.7},{"x":227,"y":30.2},{"x":229,"y":30},{"x":231,"y":29.6},{"x":233.2,"y":30},{"x":235.3,"y":29.6},{"x":237.3,"y":29.1},{"x":239.4,"y":29.6},{"x":241.5,"y":30},{"x":243.6,"y":30.5},{"x":245,"y":30},{"x":247.7,"y":30},{"x":249,"y":30.5},{"x":251.9,"y":30.9},{"x":253.3,"y":30.9},{"x":256,"y":31.8},{"x":257.4,"y":32.7},{"x":261.6,"y":30.9},{"x":265.7,"y":30.5},{"x":269.8,"y":29.6},{"x":274,"y":30.5},{"x":278,"y":31.4},{"x":280,"y":31.8},{"x":282.2,"y":30.5},{"x":286.4,"y":30.2},{"x":290.5,"y":30},{"x":294.6,"y":30.5},{"x":298.8,"y":29.6},{"x":302.9,"y":29.1},{"x":307,"y":29.1},{"x":311,"y":28.9},{"x":315.3,"y":29.1},{"x":319.4,"y":28.7},{"x":323.6,"y":28.3},{"x":325.6,"y":27.8},{"x":329.8,"y":28.7},{"x":333.9,"y":29.1},{"x":338,"y":30},{"x":342,"y":29.6},{"x":346.3,"y":30.5},{"x":350.4,"y":31.4},{"x":354.5,"y":31.8},{"x":358.7,"y":30.5},{"x":362.8,"y":31.4},{"x":367,"y":30.9},{"x":371,"y":31.4},{"x":375.2,"y":31.8},{"x":379.3,"y":31.8},{"x":383.5,"y":32.2},{"x":387.6,"y":31.8},{"x":391.7,"y":32.2},{"x":395.9,"y":31.8},{"x":400,"y":32.7},{"x":402,"y":33.1},{"x":404.1,"y":32.7},{"x":406.2,"y":33.6},{"x":408.3,"y":34},{"x":410.3,"y":34.2},{"x":412.4,"y":33.8},{"x":414.5,"y":33.1},{"x":418.6,"y":33.6},{"x":420.7,"y":33.8},{"x":424.8,"y":33.3},{"x":428.9,"y":32.7},{"x":433,"y":32.2},{"x":437.2,"y":31.8},{"x":441.3,"y":31.4},{"x":445.5,"y":30.9},{"x":449.6,"y":30.5},{"x":453.7,"y":29.6},{"x":457.9,"y":29.1},{"x":462,"y":29.3},{"x":466.1,"y":29.1},{"x":470.2,"y":29.1},{"x":474.4,"y":29.6},{"x":478.5,"y":28.9},{"x":482.6,"y":29.3},{"x":486.8,"y":29.6},{"x":490.9,"y":28.9},{"x":495,"y":28.7},{"x":499.2,"y":28.7}],
"g4":[{"x":10.4,"y":27.8},{"x":11.3,"y":31.1},{"x":12.5,"y":24.3},{"x":13.8,"y":22.5},{"x":15,"y":20.8},{"x":15.8,"y":30},{"x":16.7,"y":24.3},{"x":18,"y":30},{"x":19.5,"y":22},{"x":20.5,"y":20.5},{"x":21.2,"y":null},{"x":22,"y":23},{"x":23.8,"y":30},{"x":25,"y":26.7},{"x":26.3,"y":29.6},{"x":27.5,"y":27.8},{"x":29,"y":23.4},{"x":30.4,"y":21},{"x":31,"y":20.3},{"x":50,"y":null},{"x":87.5,"y":20.3},{"x":89.6,"y":21.2},{"x":91.7,"y":22.1},{"x":93.8,"y":21.6},{"x":95.8,"y":22.5},{"x":98,"y":22.5},{"x":100,"y":23.4},{"x":102,"y":23.8},{"x":103.3,"y":26},{"x":105,"y":29.6},{"x":106,"y":32.2},{"x":107.5,"y":36},{"x":109.2,"y":34},{"x":110.4,"y":34.9},{"x":112.5,"y":33.6},{"x":114.6,"y":34.4},{"x":116.7,"y":31.4},{"x":118,"y":34.9},{"x":119.6,"y":37.5},{"x":120.8,"y":42.8},{"x":122,"y":43.7},{"x":123.3,"y":39.7},{"x":125,"y":36.2},{"x":127,"y":34},{"x":128.3,"y":38},{"x":129.6,"y":42},{"x":131.3,"y":40.6},{"x":132.5,"y":37.5},{"x":134.2,"y":38.9},{"x":135.8,"y":36.7},{"x":137.5,"y":35.8},{"x":139.6,"y":33.1},{"x":141.7,"y":30.9},{"x":143,"y":31.8},{"x":144.2,"y":35.3},{"x":145.8,"y":37.5},{"x":147,"y":38},{"x":148.8,"y":35.8},{"x":150,"y":36.2},{"x":151.7,"y":36.7},{"x":152.9,"y":33.1},{"x":154.2,"y":34},{"x":155.4,"y":32.2},{"x":157,"y":31.4},{"x":158.3,"y":31.8},{"x":160.4,"y":30.9},{"x":162.5,"y":30.5},{"x":164.6,"y":29.6},{"x":166.7,"y":28.7},{"x":168.8,"y":27.4},{"x":170,"y":26},{"x":171.3,"y":27.4},{"x":172,"y":42.8},{"x":173.3,"y":42},{"x":175,"y":40.6},{"x":176.3,"y":41.5},{"x":177.5,"y":39.7},{"x":178.5,"y":41},{"x":185,"y":null},{"x":193.8,"y":44.6},{"x":195.8,"y":42.4},{"x":198,"y":42.8},{"x":200,"y":42},{"x":202,"y":40.6},{"x":203.3,"y":38},{"x":205,"y":42},{"x":206.7,"y":39.3},{"x":208.3,"y":37.1},{"x":210.4,"y":36.2},{"x":212.5,"y":34.4},{"x":214.6,"y":32.7},{"x":216.7,"y":32.2},{"x":218.8,"y":31.4},{"x":220.8,"y":30.2},{"x":222.9,"y":29.6},{"x":225,"y":26.9},{"x":227,"y":27.8},{"x":229,"y":29.1},{"x":231,"y":30},{"x":233,"y":30.5},{"x":235.4,"y":29.6},{"x":237.5,"y":28.3},{"x":239.6,"y":27.4},{"x":241.7,"y":26.7},{"x":243.8,"y":27.8},{"x":245.8,"y":29.1},{"x":248,"y":27.8},{"x":250,"y":27.1},{"x":252,"y":26.9},{"x":254,"y":28.7},{"x":256,"y":30.9},{"x":258,"y":31.8},{"x":260.4,"y":32.2},{"x":262.5,"y":33.1},{"x":264.6,"y":32.7},{"x":266.7,"y":33.6},{"x":268.8,"y":31.4},{"x":270.8,"y":32.2},{"x":273,"y":33.6},{"x":275,"y":33.1},{"x":277,"y":32.2},{"x":279,"y":31.4},{"x":281,"y":29.6},{"x":283,"y":31.4},{"x":285.4,"y":32.7},{"x":287.5,"y":31.8},{"x":289.6,"y":32.2},{"x":291.7,"y":33.6},{"x":293.8,"y":34.9},{"x":295.8,"y":35.3},{"x":298,"y":34.4},{"x":300,"y":33.6},{"x":302,"y":33.1},{"x":304,"y":34.4},{"x":306,"y":34},{"x":308.3,"y":35.8},{"x":310.4,"y":34.4},{"x":312.5,"y":35.3},{"x":314.6,"y":36.7},{"x":316.7,"y":35.8},{"x":318.8,"y":37.1},{"x":320.8,"y":37.5},{"x":323,"y":38},{"x":325,"y":38.4},{"x":327,"y":42},{"x":329,"y":39.7},{"x":331,"y":38.9},{"x":333,"y":39.3},{"x":335.4,"y":39.7},{"x":337.5,"y":40.6},{"x":339.6,"y":40.2},{"x":341.7,"y":42},{"x":343.8,"y":42.4},{"x":345.8,"y":41.1},{"x":348,"y":43.3},{"x":349,"y":44.2},{"x":350,"y":44.8},{"x":360,"y":null},{"x":368.8,"y":43.7},{"x":370.8,"y":43.3},{"x":373,"y":40.6},{"x":375,"y":39.3},{"x":377,"y":38.4},{"x":379,"y":37.5},{"x":381.3,"y":37.7},{"x":383.3,"y":37.1},{"x":385.4,"y":36.7},{"x":387.5,"y":37.5},{"x":389.6,"y":36.7},{"x":391.7,"y":37.5},{"x":393.8,"y":38},{"x":395.8,"y":37.5},{"x":398,"y":36.2},{"x":400,"y":35.8},{"x":402,"y":34},{"x":404,"y":33.1},{"x":406,"y":32.2},{"x":408.3,"y":34.4},{"x":410.4,"y":36.2},{"x":412.5,"y":35.3},{"x":414.6,"y":34.4},{"x":416.7,"y":34},{"x":418.8,"y":33.6},{"x":420.8,"y":34.9},{"x":423,"y":35.3},{"x":425,"y":35.8},{"x":427,"y":36.2},{"x":429,"y":37.1},{"x":431.3,"y":38.4},{"x":433.3,"y":39.7},{"x":435.4,"y":39.3},{"x":437.5,"y":38},{"x":439.6,"y":39.3},{"x":441.7,"y":40.2},{"x":443.8,"y":39.7},{"x":445.8,"y":40.6},{"x":448,"y":39.7},{"x":450,"y":40.2},{"x":452,"y":40.6},{"x":454,"y":41.5},{"x":456.3,"y":42.4},{"x":458.3,"y":41.5},{"x":460.4,"y":42.8},{"x":462.5,"y":42},{"x":464.6,"y":42.6},{"x":466.7,"y":41.5},{"x":468.8,"y":41.1},{"x":470.8,"y":42.4},{"x":473,"y":42},{"x":475,"y":42.6},{"x":477,"y":41.5},{"x":479,"y":42.4},{"x":481.3,"y":42},{"x":483.3,"y":41.5},{"x":485.4,"y":42.4},{"x":487.5,"y":41.1},{"x":489.6,"y":40.2},{"x":491.7,"y":39.7},{"x":494,"y":40.6},{"x":495.8,"y":42},{"x":498,"y":42.8},{"x":500,"y":43.3}],
"b4":[{"x":3.3,"y":23.4},{"x":4.6,"y":32.7},{"x":5.8,"y":30},{"x":7,"y":26},{"x":8.3,"y":23},{"x":9.6,"y":24.3},{"x":10.8,"y":22.5},{"x":12,"y":21},{"x":13,"y":20.2},{"x":20,"y":null},{"x":37.5,"y":20.8},{"x":39.6,"y":22.1},{"x":41.7,"y":23},{"x":43.8,"y":26.9},{"x":45.8,"y":30.5},{"x":48,"y":27.8},{"x":50,"y":29.6},{"x":52,"y":28.7},{"x":54,"y":27.4},{"x":56.3,"y":29.1},{"x":58.3,"y":26.9},{"x":60.4,"y":26.5},{"x":62.5,"y":25.2},{"x":64.6,"y":28.7},{"x":66.7,"y":30.5},{"x":68.8,"y":28.3},{"x":70.8,"y":26},{"x":73,"y":27.4},{"x":75,"y":29.1},{"x":77,"y":27.8},{"x":79,"y":26.9},{"x":81.3,"y":27.8},{"x":83.3,"y":28.7},{"x":85.4,"y":28.3},{"x":87.5,"y":27.8},{"x":89.6,"y":28.3},{"x":91.7,"y":27.4},{"x":93.8,"y":28.3},{"x":95.8,"y":27.8},{"x":98,"y":27.4},{"x":100,"y":26.7},{"x":102,"y":26},{"x":104.2,"y":25.2},{"x":106.3,"y":24.7},{"x":108.3,"y":24.3},{"x":110.4,"y":23.8},{"x":112.5,"y":26},{"x":114.6,"y":27.8},{"x":116.7,"y":29.1},{"x":118.8,"y":30.9},{"x":120.8,"y":32.2},{"x":123,"y":33.6},{"x":125,"y":30},{"x":127,"y":29.1},{"x":129.2,"y":27.4},{"x":131.3,"y":26.9},{"x":133.3,"y":27.4},{"x":135.4,"y":26.5},{"x":137.5,"y":26},{"x":139.6,"y":25.6},{"x":141.7,"y":26},{"x":143.8,"y":26.5},{"x":145.8,"y":26},{"x":148,"y":26.5},{"x":150,"y":26.9},{"x":152,"y":26},{"x":154.2,"y":26.5},{"x":156.3,"y":26.9},{"x":158.3,"y":26.7},{"x":160.4,"y":27.4},{"x":162.5,"y":26.9},{"x":164.6,"y":27.4},{"x":166.7,"y":27.8},{"x":168.8,"y":27.6},{"x":170.8,"y":28.3},{"x":173,"y":28.7},{"x":175,"y":28},{"x":177,"y":28.3},{"x":179,"y":27.8},{"x":181.3,"y":28.3},{"x":183.3,"y":27.4},{"x":185.4,"y":26.5},{"x":187.5,"y":26},{"x":189.6,"y":24.7},{"x":191.7,"y":24.3},{"x":193.8,"y":24.7},{"x":195.8,"y":25.2},{"x":198,"y":24.7},{"x":200,"y":25.6},{"x":202,"y":26.9},{"x":204.2,"y":27.4},{"x":206.3,"y":27.8},{"x":208.3,"y":28.7},{"x":210.4,"y":29.2},{"x":212.5,"y":29.6},{"x":214.6,"y":29.8},{"x":216.7,"y":30},{"x":218.8,"y":30.2},{"x":220.8,"y":30.5},{"x":222.9,"y":31},{"x":225,"y":31.4},{"x":227,"y":32.2},{"x":229,"y":33.8},{"x":231,"y":33.6},{"x":233,"y":33.1},{"x":235.4,"y":32.2},{"x":237.5,"y":33.6},{"x":239.6,"y":33.1},{"x":241.7,"y":32.7},{"x":243.8,"y":33.6},{"x":245.8,"y":33.1},{"x":248,"y":32.2},{"x":250,"y":32.7},{"x":252,"y":32.2},{"x":254,"y":30.5},{"x":256,"y":31.8},{"x":258,"y":30.5},{"x":260.4,"y":30},{"x":262.5,"y":29.1},{"x":264.6,"y":28.7},{"x":266.7,"y":29.1},{"x":268.8,"y":28.3},{"x":270.8,"y":27.4},{"x":273,"y":26.9},{"x":275,"y":26.5},{"x":277,"y":26.3},{"x":279,"y":26},{"x":281,"y":26.5},{"x":283,"y":26.9},{"x":285.4,"y":26.7},{"x":287.5,"y":27.4},{"x":289.6,"y":27.8},{"x":291.7,"y":27.4},{"x":293.8,"y":27.8},{"x":295.8,"y":28.3},{"x":298,"y":27.8},{"x":300,"y":28},{"x":302,"y":27.8},{"x":304,"y":27.6},{"x":306,"y":27.8},{"x":308.3,"y":27.4},{"x":310.4,"y":26.9},{"x":312.5,"y":26.7},{"x":314.6,"y":27.4},{"x":316.7,"y":28.3},{"x":318.8,"y":28},{"x":320.8,"y":28.3},{"x":323,"y":27.8},{"x":325,"y":27.6},{"x":327,"y":27.8},{"x":329,"y":26.9},{"x":331,"y":26.5},{"x":333,"y":26.3},{"x":335.4,"y":26},{"x":337.5,"y":25.8},{"x":339.6,"y":26.5},{"x":341.7,"y":27.4},{"x":343.8,"y":28.3},{"x":345.8,"y":29.1},{"x":348,"y":29.6},{"x":350,"y":30.5},{"x":352,"y":32.2},{"x":354,"y":32.7},{"x":356.3,"y":33.1},{"x":358.3,"y":32.7},{"x":360.4,"y":32.2},{"x":362.5,"y":32.7},{"x":364.6,"y":32.2},{"x":366.7,"y":31.8},{"x":368.8,"y":32.2},{"x":370.8,"y":31.4},{"x":373,"y":30.9},{"x":375,"y":29.8},{"x":377,"y":31.4},{"x":379,"y":32.2},{"x":381.3,"y":33.6},{"x":383.3,"y":34.9},{"x":385.4,"y":34},{"x":387.5,"y":33.1},{"x":389.6,"y":32.7},{"x":391.7,"y":33.1},{"x":393.8,"y":32.7},{"x":395.8,"y":32.2},{"x":398,"y":32.9},{"x":400,"y":33.1},{"x":402,"y":33.6},{"x":404,"y":33.1},{"x":406.3,"y":32.7},{"x":408.3,"y":33.1},{"x":410.4,"y":33.6},{"x":412.5,"y":34.4},{"x":414.6,"y":34},{"x":416.7,"y":34.4},{"x":418.8,"y":35.3},{"x":420.8,"y":35.8},{"x":423,"y":36.2},{"x":425,"y":36.7},{"x":427,"y":37.5},{"x":429,"y":38},{"x":431.3,"y":37.5},{"x":433.3,"y":38},{"x":435.4,"y":38.4},{"x":437.5,"y":37.5},{"x":439.6,"y":38},{"x":441.7,"y":39.3},{"x":443.8,"y":39.7},{"x":445.8,"y":40},{"x":448,"y":38.9},{"x":450,"y":39.3},{"x":452,"y":38.4},{"x":454,"y":37.5},{"x":456.3,"y":37.1},{"x":458.3,"y":37.5},{"x":460.4,"y":36.7},{"x":462.5,"y":36.2},{"x":464.6,"y":35.8},{"x":466.7,"y":35.3},{"x":468.8,"y":34.9},{"x":470.8,"y":35.1},{"x":473,"y":35.8},{"x":475,"y":35.6},{"x":477,"y":35.8},{"x":479,"y":35.1},{"x":481.3,"y":34.2},{"x":483.3,"y":34.4},{"x":485.4,"y":33.8},{"x":487.5,"y":33.3},{"x":489.6,"y":33.1},{"x":491.7,"y":32.7},{"x":494,"y":32.2},{"x":495.8,"y":31.8},{"x":498,"y":31.4},{"x":500,"y":30.9}],
"r4":[{"x":2,"y":20.3},{"x":2.9,"y":24.3},{"x":4.2,"y":27.4},{"x":5.4,"y":26},{"x":6.7,"y":27.8},{"x":8,"y":26},{"x":9.2,"y":28.7},{"x":10.4,"y":26.9},{"x":11.7,"y":24.3},{"x":13,"y":23.4},{"x":14.2,"y":22.1},{"x":15.4,"y":20.8},{"x":16.5,"y":20.1},{"x":25,"y":null},{"x":37.5,"y":20.8},{"x":39.6,"y":21.2},{"x":41.7,"y":22.5},{"x":43.8,"y":20.8},{"x":45,"y":23.8},{"x":46.3,"y":24.7},{"x":47.5,"y":26},{"x":48.8,"y":29.6},{"x":50,"y":31.4},{"x":51.3,"y":33.1},{"x":52.5,"y":36.2},{"x":53.8,"y":38},{"x":55,"y":35.8},{"x":56.3,"y":36.7},{"x":57.5,"y":36.2},{"x":58.8,"y":37.5},{"x":60,"y":36.2},{"x":61.3,"y":39.3},{"x":62.5,"y":42.2},{"x":63.8,"y":40.2},{"x":65,"y":37.5},{"x":66.3,"y":34.9},{"x":67.5,"y":34},{"x":68.8,"y":34.4},{"x":70,"y":33.6},{"x":71.3,"y":34},{"x":72.5,"y":33.1},{"x":73.8,"y":34},{"x":75,"y":32.9},{"x":76.3,"y":33.1},{"x":77.5,"y":32.2},{"x":79.2,"y":32.7},{"x":81.3,"y":30.9},{"x":83.3,"y":29.6},{"x":85.4,"y":30},{"x":87.5,"y":28.7},{"x":89.6,"y":28.3},{"x":91.7,"y":28.7},{"x":93.8,"y":29.1},{"x":95.8,"y":28.7},{"x":98,"y":28.3},{"x":100,"y":27.8},{"x":102,"y":28.7},{"x":104.2,"y":29.6},{"x":106.3,"y":28.3},{"x":108.3,"y":27.8},{"x":110.4,"y":27.4},{"x":112.5,"y":27.8},{"x":114.6,"y":26.9},{"x":116.7,"y":26},{"x":118.8,"y":25.6},{"x":120.8,"y":25.8},{"x":123,"y":25.4},{"x":125,"y":25.6},{"x":127,"y":25.4},{"x":129.2,"y":25.6},{"x":131.3,"y":25.2},{"x":133.3,"y":25.4},{"x":135.4,"y":25.2},{"x":137.5,"y":24.7},{"x":139.6,"y":26},{"x":141.7,"y":26.5},{"x":143.8,"y":26.7},{"x":145.8,"y":26.5},{"x":148,"y":26.9},{"x":150,"y":26.7},{"x":152,"y":26.5},{"x":154.2,"y":26.7},{"x":156.3,"y":27.4},{"x":158.3,"y":27.8},{"x":160.4,"y":28.3},{"x":162.5,"y":28.7},{"x":164.6,"y":29.1},{"x":166.7,"y":28.3},{"x":168.8,"y":28.7},{"x":170.8,"y":29.1},{"x":173,"y":28.7},{"x":175,"y":28.3},{"x":177,"y":28.7},{"x":179,"y":28.3},{"x":181.3,"y":28.7},{"x":183.3,"y":29.1},{"x":185.4,"y":30},{"x":187.5,"y":30.9},{"x":189.6,"y":31.8},{"x":191.7,"y":32.2},{"x":193.8,"y":32.7},{"x":195.8,"y":33.1},{"x":198,"y":34},{"x":199.2,"y":34.4},{"x":200.8,"y":33.6},{"x":202.5,"y":32.7},{"x":204.2,"y":32.2},{"x":206.3,"y":32.2},{"x":208.3,"y":31.8},{"x":210.4,"y":30.9},{"x":212.5,"y":31.4},{"x":214.6,"y":30.5},{"x":216.7,"y":31.4},{"x":218.8,"y":30.9},{"x":220.8,"y":30.5},{"x":222.9,"y":30.9},{"x":225,"y":30.9},{"x":227,"y":29.6},{"x":229,"y":30.2},{"x":231,"y":30.5},{"x":233,"y":30.5},{"x":235.4,"y":31.4},{"x":237.5,"y":30},{"x":239.6,"y":29.6},{"x":241.7,"y":29.1},{"x":243.8,"y":28.7},{"x":245.8,"y":28.3},{"x":248,"y":28.1},{"x":250,"y":28},{"x":252,"y":28.4},{"x":254,"y":28.7},{"x":256,"y":28.3},{"x":258,"y":30},{"x":260.4,"y":30.3},{"x":262.5,"y":30.5},{"x":264.6,"y":29.6},{"x":266.7,"y":28.7},{"x":268.8,"y":27.4},{"x":270.8,"y":28.7},{"x":273,"y":29.6},{"x":275,"y":30},{"x":277,"y":30.5},{"x":279,"y":30},{"x":281,"y":29.6},{"x":283,"y":29.3},{"x":285.4,"y":29.5},{"x":287.5,"y":29.6},{"x":289.6,"y":30.5},{"x":291.7,"y":31.4},{"x":293.8,"y":31.8},{"x":295.8,"y":32.2},{"x":298,"y":32},{"x":300,"y":32.2},{"x":302,"y":32.7},{"x":304,"y":32.2},{"x":306,"y":33.1},{"x":308.3,"y":32.2},{"x":310.4,"y":31.8},{"x":312.5,"y":32.2},{"x":314.6,"y":31.4},{"x":316.7,"y":32.2},{"x":318.8,"y":33.1},{"x":320.8,"y":32.7},{"x":323,"y":33.6},{"x":325,"y":33.8},{"x":327,"y":33.3},{"x":329,"y":33.1},{"x":331,"y":32.7},{"x":333,"y":32.2},{"x":335.4,"y":32.9},{"x":337.5,"y":33.6},{"x":339.6,"y":32.9},{"x":341.7,"y":32.2},{"x":343.8,"y":32.4},{"x":345.8,"y":32.7},{"x":348,"y":32.2},{"x":350,"y":32.7},{"x":352,"y":32.2},{"x":354,"y":32.4},{"x":356.3,"y":32.2},{"x":358.3,"y":32.4},{"x":360.4,"y":32.2},{"x":362.5,"y":32},{"x":364.6,"y":32.2},{"x":366.7,"y":31.8},{"x":368.8,"y":32},{"x":370.8,"y":31.6},{"x":373,"y":31.8},{"x":375,"y":31.4},{"x":377,"y":31.8},{"x":379,"y":31.8},{"x":381.3,"y":32.7},{"x":383.3,"y":33.1},{"x":385.4,"y":32.2},{"x":387.5,"y":32.7},{"x":389.6,"y":32.2},{"x":391.7,"y":31.8},{"x":393.8,"y":31.6},{"x":395.8,"y":31.4},{"x":398,"y":31.8},{"x":400,"y":32.2},{"x":402,"y":32.7},{"x":404,"y":32.9},{"x":406.3,"y":32.7},{"x":408.3,"y":32.4},{"x":410.4,"y":32.2},{"x":412.5,"y":32},{"x":414.6,"y":32.2},{"x":416.7,"y":31.8},{"x":418.8,"y":32},{"x":420.8,"y":34},{"x":423,"y":34.9},{"x":425,"y":35.8},{"x":427,"y":34.9},{"x":429,"y":35.8},{"x":431.3,"y":36.2},{"x":433.3,"y":35.8},{"x":435.4,"y":36.2},{"x":437.5,"y":35.8},{"x":439.6,"y":35.3},{"x":441.7,"y":34.9},{"x":443.8,"y":35.3},{"x":445.8,"y":36.2},{"x":448,"y":36.7},{"x":450,"y":37.5},{"x":452,"y":38},{"x":454,"y":38.4},{"x":456.3,"y":38.9},{"x":458.3,"y":39.1},{"x":460.4,"y":39.3},{"x":462.5,"y":38.4},{"x":464.6,"y":38},{"x":466.7,"y":38.9},{"x":468.8,"y":38.4},{"x":470.8,"y":38},{"x":473,"y":38.4},{"x":475,"y":38.9},{"x":477,"y":38.4},{"x":479,"y":39.7},{"x":481.3,"y":40.6},{"x":483.3,"y":40.2},{"x":485.4,"y":40.6},{"x":487.5,"y":39.3},{"x":489.6,"y":39.7},{"x":491.7,"y":39.5},{"x":494,"y":39.3},{"x":495.8,"y":40.2},{"x":498,"y":41.1},{"x":500,"y":41.3}]
},
"columns":2,
"spacing":{"row":122.3,"column":57.3},
"bounds":"flush",
"resolve":{"scale":{"x":"independent","y":"independent","color":"independent","strokeDash":"independent"},"legend":{"color":"independent","strokeDash":"independent"}},
"concat":[
{"width":438,"height":208,"title":{"text":"Scenar\u2003\u2003io 1"},
"layer":[
{"data":{"name":"g1"},"mark":{"type":"line","strokeWidth":1.5,"invalid":"break-paths-filter-domains"},
"encoding":{"x":{"field":"x","type":"quantitative","scale":{"domain":[-21.6,525.2],"nice":false,"zero":false},"axis":{"values":[0,50,100,150,200,250,300,350,400,450,500],"labelExpr":"datum.value % 100 === 0 ? datum.label : ''","gridWidth":{"condition":{"test":"datum.value % 100 === 0","value":1.1},"value":0.5},"tickOpacity":{"condition":{"test":"datum.value % 100 === 0","value":1},"value":0},"title":"order statistics","titleX":191,"titleY":29.5,"titleAlign":"center","titleBaseline":"alphabetic"}},
"y":{"field":"y","type":"quantitative","scale":{"domain":[18.75,46.25],"nice":false,"zero":false},"axis":{"values":[20,22.5,25,27.5,30,32.5,35,37.5,40,42.5,45],"labelExpr":"datum.value % 5 === 0 ? datum.label : ''","gridWidth":{"condition":{"test":"datum.value % 5 === 0","value":1.1},"value":0.5},"tickOpacity":{"condition":{"test":"datum.value % 5 === 0","value":1},"value":0},"title":"CTE","titleX":-35,"titleY":110,"titleAlign":"center","titleBaseline":"middle","titleAngle":-90}},
"color":{"datum":"p=0.5","type":"nominal","scale":{"domain":["p=0.5","p=0.7","p=0.9"],"range":["#008B00","#4169E1","#FF0000"]},"legend":{"title":null,"orient":"none","legendX":114,"legendY":260,"direction":"horizontal"}},
"strokeDash":{"datum":"p=0.5","type":"nominal","scale":{"domain":["p=0.5","p=0.7","p=0.9"],"range":[[1,0],[6,5],[11,4]]},"legend":{"title":null,"orient":"none","legendX":114,"legendY":260,"direction":"horizontal"}}}},
{"data":{"name":"b1"},"mark":{"type":"line","strokeWidth":1.5,"invalid":"break-paths-filter-domains"},"encoding":{"x":{"field":"x","type":"quantitative"},"y":{"field":"y","type":"quantitative"},"color":{"datum":"p=0.7","type":"nominal"},"strokeDash":{"datum":"p=0.7","type":"nominal"}}},
{"data":{"name":"r1"},"mark":{"type":"line","strokeWidth":1.5,"invalid":"break-paths-filter-domains"},"encoding":{"x":{"field":"x","type":"quantitative"},"y":{"field":"y","type":"quantitative"},"color":{"datum":"p=0.9","type":"nominal"},"strokeDash":{"datum":"p=0.9","type":"nominal"}}},
{"data":{"values":[{"y":31.57}]},"mark":{"type":"rule","color":"#000000","strokeWidth":1.2},"encoding":{"y":{"field":"y","type":"quantitative"}}}
]},
{"width":428,"height":208,"title":{"text":"Scenar\u2003\u2003io 2"},
"layer":[
{"data":{"name":"g2"},"mark":{"type":"line","strokeWidth":1.5,"invalid":"break-paths-filter-domains"},
"encoding":{"x":{"field":"x","type":"quantitative","scale":{"domain":[-21.6,512.4],"nice":false,"zero":false},"axis":{"values":[0,50,100,150,200,250,300,350,400,450,500],"labelExpr":"datum.value % 100 === 0 ? datum.label : ''","gridWidth":{"condition":{"test":"datum.value % 100 === 0","value":1.1},"value":0.5},"tickOpacity":{"condition":{"test":"datum.value % 100 === 0","value":1},"value":0},"title":"order statistics","titleX":191,"titleY":29.5,"titleAlign":"center","titleBaseline":"alphabetic"}},
"y":{"field":"y","type":"quantitative","scale":{"domain":[18.75,46.25],"nice":false,"zero":false},"axis":{"values":[20,22.5,25,27.5,30,32.5,35,37.5,40,42.5,45],"labelExpr":"datum.value % 5 === 0 ? datum.label : ''","gridWidth":{"condition":{"test":"datum.value % 5 === 0","value":1.1},"value":0.5},"tickOpacity":{"condition":{"test":"datum.value % 5 === 0","value":1},"value":0},"title":"CTE","titleX":-35,"titleY":110,"titleAlign":"center","titleBaseline":"middle","titleAngle":-90}},
"color":{"datum":"p=0.5","type":"nominal","scale":{"domain":["p=0.5","p=0.7","p=0.9"],"range":["#008B00","#4169E1","#FF0000"]},"legend":{"title":null,"orient":"none","legendX":114,"legendY":260,"direction":"horizontal"}},
"strokeDash":{"datum":"p=0.5","type":"nominal","scale":{"domain":["p=0.5","p=0.7","p=0.9"],"range":[[1,0],[6,5],[11,4]]},"legend":{"title":null,"orient":"none","legendX":114,"legendY":260,"direction":"horizontal"}}}},
{"data":{"name":"b2"},"mark":{"type":"line","strokeWidth":1.5,"invalid":"break-paths-filter-domains"},"encoding":{"x":{"field":"x","type":"quantitative"},"y":{"field":"y","type":"quantitative"},"color":{"datum":"p=0.7","type":"nominal"},"strokeDash":{"datum":"p=0.7","type":"nominal"}}},
{"data":{"name":"r2"},"mark":{"type":"line","strokeWidth":1.5,"invalid":"break-paths-filter-domains"},"encoding":{"x":{"field":"x","type":"quantitative"},"y":{"field":"y","type":"quantitative"},"color":{"datum":"p=0.9","type":"nominal"},"strokeDash":{"datum":"p=0.9","type":"nominal"}}},
{"data":{"values":[{"y":31.34}]},"mark":{"type":"rule","color":"#000000","strokeWidth":1.2},"encoding":{"y":{"field":"y","type":"quantitative"}}}
]},
{"width":438,"height":208,"title":{"text":"Scenar\u2003\u2003io 3"},
"layer":[
{"data":{"name":"g3"},"mark":{"type":"line","strokeWidth":1.5,"invalid":"break-paths-filter-domains"},
"encoding":{"x":{"field":"x","type":"quantitative","scale":{"domain":[-21.6,525.2],"nice":false,"zero":false},"axis":{"values":[0,50,100,150,200,250,300,350,400,450,500],"labelExpr":"datum.value % 100 === 0 ? datum.label : ''","gridWidth":{"condition":{"test":"datum.value % 100 === 0","value":1.1},"value":0.5},"tickOpacity":{"condition":{"test":"datum.value % 100 === 0","value":1},"value":0},"title":"order statistics","titleX":191,"titleY":29.5,"titleAlign":"center","titleBaseline":"alphabetic"}},
"y":{"field":"y","type":"quantitative","scale":{"domain":[18.75,46.25],"nice":false,"zero":false},"axis":{"values":[20,22.5,25,27.5,30,32.5,35,37.5,40,42.5,45],"labelExpr":"datum.value % 5 === 0 ? datum.label : ''","gridWidth":{"condition":{"test":"datum.value % 5 === 0","value":1.1},"value":0.5},"tickOpacity":{"condition":{"test":"datum.value % 5 === 0","value":1},"value":0},"title":"CTE","titleX":-35,"titleY":110,"titleAlign":"center","titleBaseline":"middle","titleAngle":-90}},
"color":{"datum":"p=0.5","type":"nominal","scale":{"domain":["p=0.5","p=0.7","p=0.9"],"range":["#008B00","#4169E1","#FF0000"]},"legend":{"title":null,"orient":"none","legendX":114,"legendY":260,"direction":"horizontal"}},
"strokeDash":{"datum":"p=0.5","type":"nominal","scale":{"domain":["p=0.5","p=0.7","p=0.9"],"range":[[1,0],[6,5],[11,4]]},"legend":{"title":null,"orient":"none","legendX":114,"legendY":260,"direction":"horizontal"}}}},
{"data":{"name":"b3"},"mark":{"type":"line","strokeWidth":1.5,"invalid":"break-paths-filter-domains"},"encoding":{"x":{"field":"x","type":"quantitative"},"y":{"field":"y","type":"quantitative"},"color":{"datum":"p=0.7","type":"nominal"},"strokeDash":{"datum":"p=0.7","type":"nominal"}}},
{"data":{"name":"r3"},"mark":{"type":"line","strokeWidth":1.5,"invalid":"break-paths-filter-domains"},"encoding":{"x":{"field":"x","type":"quantitative"},"y":{"field":"y","type":"quantitative"},"color":{"datum":"p=0.9","type":"nominal"},"strokeDash":{"datum":"p=0.9","type":"nominal"}}},
{"data":{"values":[{"y":31.47}]},"mark":{"type":"rule","color":"#000000","strokeWidth":1.2},"encoding":{"y":{"field":"y","type":"quantitative"}}}
]},
{"width":428,"height":208,"title":{"text":"Scenar\u2003\u2003io 4"},
"layer":[
{"data":{"name":"g4"},"mark":{"type":"line","strokeWidth":1.5,"invalid":"break-paths-filter-domains"},
"encoding":{"x":{"field":"x","type":"quantitative","scale":{"domain":[-21.6,512.4],"nice":false,"zero":false},"axis":{"values":[0,50,100,150,200,250,300,350,400,450,500],"labelExpr":"datum.value % 100 === 0 ? datum.label : ''","gridWidth":{"condition":{"test":"datum.value % 100 === 0","value":1.1},"value":0.5},"tickOpacity":{"condition":{"test":"datum.value % 100 === 0","value":1},"value":0},"title":"order statistics","titleX":191,"titleY":29.5,"titleAlign":"center","titleBaseline":"alphabetic"}},
"y":{"field":"y","type":"quantitative","scale":{"domain":[18.75,46.25],"nice":false,"zero":false},"axis":{"values":[20,22.5,25,27.5,30,32.5,35,37.5,40,42.5,45],"labelExpr":"datum.value % 5 === 0 ? datum.label : ''","gridWidth":{"condition":{"test":"datum.value % 5 === 0","value":1.1},"value":0.5},"tickOpacity":{"condition":{"test":"datum.value % 5 === 0","value":1},"value":0},"title":"CTE","titleX":-35,"titleY":110,"titleAlign":"center","titleBaseline":"middle","titleAngle":-90}},
"color":{"datum":"p=0.5","type":"nominal","scale":{"domain":["p=0.5","p=0.7","p=0.9"],"range":["#008B00","#4169E1","#FF0000"]},"legend":{"title":null,"orient":"none","legendX":114,"legendY":260,"direction":"horizontal"}},
"strokeDash":{"datum":"p=0.5","type":"nominal","scale":{"domain":["p=0.5","p=0.7","p=0.9"],"range":[[1,0],[6,5],[11,4]]},"legend":{"title":null,"orient":"none","legendX":114,"legendY":260,"direction":"horizontal"}}}},
{"data":{"name":"b4"},"mark":{"type":"line","strokeWidth":1.5,"invalid":"break-paths-filter-domains"},"encoding":{"x":{"field":"x","type":"quantitative"},"y":{"field":"y","type":"quantitative"},"color":{"datum":"p=0.7","type":"nominal"},"strokeDash":{"datum":"p=0.7","type":"nominal"}}},
{"data":{"name":"r4"},"mark":{"type":"line","strokeWidth":1.5,"invalid":"break-paths-filter-domains"},"encoding":{"x":{"field":"x","type":"quantitative"},"y":{"field":"y","type":"quantitative"},"color":{"datum":"p=0.9","type":"nominal"},"strokeDash":{"datum":"p=0.9","type":"nominal"}}},
{"data":{"values":[{"y":31.3}]},"mark":{"type":"rule","color":"#000000","strokeWidth":1.2},"encoding":{"y":{"field":"y","type":"quantitative"}}}
]}
],
"config":{
"font":"Liberation Sans",
"view":{"stroke":null,"fill":"#EBEBEB"},
"axis":{"domain":false,"tickColor":"#333333","tickSize":4,"tickWidth":1,"labelColor":"#4D4D4D","labelFontSize":12,"labelPadding":2,"gridColor":"#FFFFFF","titleFontSize":14,"titleFontWeight":"normal","titleColor":"#000000","labelFlush":false,"labelOverlap":false},
"axisX":{"labelPadding":0},
"axisY":{"labelPadding":9},
"title":{"fontSize":16,"fontWeight":"normal","color":"#000000","anchor":"start","frame":"group","offset":10,"dx":173,"baseline":"alphabetic"},
"legend":{"labelFontSize":12,"labelColor":"#1A1A1A","symbolType":"stroke","symbolSize":484,"symbolStrokeWidth":1.5,"labelOffset":10,"columnPadding":14,"padding":0}
}
}
